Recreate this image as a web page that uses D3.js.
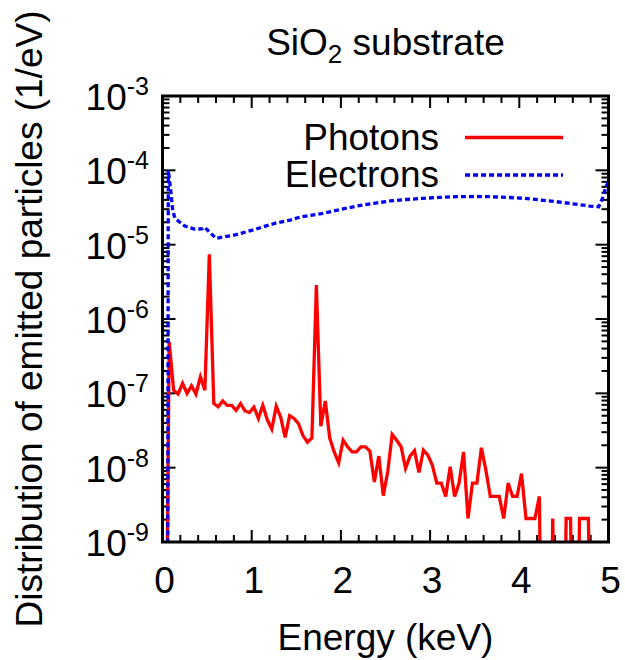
<!DOCTYPE html>
<html>
<head>
<meta charset="utf-8">
<script src="https://cdn.jsdelivr.net/npm/d3@7"></script>
<style>
  html, body { margin: 0; padding: 0; background: #fff; }
  svg { display: block; }
  text { font-family: "Liberation Sans", Arial, Helvetica, sans-serif; fill: #000; }
</style>
</head>
<body>
<svg id="chart" width="625" height="660"></svg>
<script>
// ---------------- data ----------------
const titleMain = "SiO";
const titleSub = "2";
const titleRest = " substrate";
const xLabel = "Energy (keV)";
const yLabel = "Distribution of emitted particles (1/eV)";
const seriesNames = ["Photons", "Electrons"];
const xTicks = [0, 1, 2, 3, 4, 5];
const yTickExponents = [-3, -4, -5, -6, -7, -8, -9];

// photon spectrum, bin centres (keV)
const photonEnergy = [
  0.025,0.075,0.125,0.175,0.225,0.275,0.325,0.375,0.425,0.475,
  0.525,0.575,0.625,0.675,0.725,0.775,0.825,0.875,0.925,0.975,
  1.025,1.075,1.125,1.175,1.225,1.275,1.325,1.375,1.425,1.475,
  1.525,1.575,1.625,1.675,1.725,1.775,1.825,1.875,1.925,1.975,
  2.025,2.075,2.125,2.175,2.225,2.275,2.325,2.375,2.425,2.475,
  2.525,2.575,2.625,2.675,2.725,2.775,2.825,2.875,2.925,2.975,
  3.025,3.075,3.125,3.175,3.225,3.275,3.325,3.375,3.425,3.475,
  3.525,3.575,3.625,3.675,3.725,3.775,3.825,3.875,3.925,3.975,
  4.025,4.075,4.125,4.175,4.225,4.275,4.325,4.375,4.425,4.475,
  4.525,4.575,4.625,4.675,4.725,4.775,4.825,4.875,4.925,4.975
];
// 0 = empty bin (drawn off the bottom of the log axis)
const photonValue = [
  0,4.9e-7,1.10e-7,9.8e-8,1.36e-7,1.0e-7,1.26e-7,9.8e-8,1.67e-7,1.10e-7,
  7.4e-6,7.3e-8,6.6e-8,7.9e-8,6.9e-8,6.9e-8,5.9e-8,7.3e-8,5.8e-8,5.5e-8,
  6.5e-8,4.6e-8,6.9e-8,4.4e-8,3.3e-8,6.7e-8,4.8e-8,2.55e-8,5.0e-8,4.6e-8,
  3.9e-8,2.7e-8,2.2e-8,2.5e-8,2.86e-6,3.6e-8,7.9e-8,2.5e-8,1.63e-8,1.16e-8,
  2.34e-8,1.91e-8,1.63e-8,1.63e-8,1.91e-8,1.91e-8,1.67e-8,6.4e-9,1.43e-8,4.2e-9,
  8.8e-9,2.8e-8,2.34e-8,1.91e-8,9.8e-9,1.43e-8,1.69e-8,8.6e-9,1.72e-8,1.47e-8,
  1.08e-8,6.2e-9,6.2e-9,4.1e-9,1.03e-8,4.1e-9,6.2e-9,1.63e-8,2.07e-9,6.2e-9,
  6.2e-9,1.85e-8,9.3e-9,4.1e-9,4.1e-9,4.1e-9,2.07e-9,6.2e-9,4.1e-9,4.1e-9,
  8.3e-9,2.07e-9,2.07e-9,2.07e-9,4.1e-9,0,0,2.07e-9,0,0,
  2.07e-9,2.07e-9,0,2.07e-9,2.07e-9,2.07e-9,0,0,0,0
];

// electron spectrum
const electronEnergy = [
  0.055,0.065,0.092,0.114,0.14,0.25,0.36,0.44,0.47,0.60,0.81,1.04,1.26,1.43,
  1.56,1.80,2.0,2.18,2.37,2.55,2.73,2.92,3.10,3.30,3.50,3.67,3.86,4.05,4.23,
  4.42,4.60,4.79,4.89,4.94,4.97,5.0
];
const electronValue = [
  0,1.0e-4,5.4e-5,2.9e-5,2.26e-5,1.78e-5,1.62e-5,1.63e-5,1.72e-5,1.22e-5,1.35e-5,1.61e-5,1.94e-5,2.14e-5,
  2.38e-5,2.64e-5,2.98e-5,3.31e-5,3.60e-5,3.87e-5,4.05e-5,4.20e-5,4.32e-5,4.42e-5,4.45e-5,4.42e-5,4.33e-5,4.20e-5,4.00e-5,
  3.78e-5,3.55e-5,3.31e-5,3.24e-5,4.4e-5,6.0e-5,7.0e-5
];

// ---------------- layout ----------------
const svg = d3.select("#chart");
const L = 162.5, R = 608.5, T = 96, B = 542;
const FONT = 37;

const x = d3.scaleLinear().domain([0, 5]).range([L, R]);
const y = d3.scaleLog().domain([1e-9, 1e-3]).range([B, T]);
const FLOOR = 1e-13; // where empty bins are drawn (clipped)

svg.append("defs").append("clipPath").attr("id", "plotclip")
  .append("rect").attr("x", L).attr("y", T).attr("width", R - L).attr("height", B - T);

// ticks
const tickG = svg.append("g").attr("stroke", "#000").attr("stroke-width", 2);
const xMinor = d3.range(0, 5.0001, 0.2);
xMinor.forEach(v => {
  const major = Math.abs(v - Math.round(v)) < 1e-6;
  const len = major ? 12 : 7;
  const px = x(v);
  tickG.append("line").attr("x1", px).attr("x2", px).attr("y1", B).attr("y2", B - len);
  tickG.append("line").attr("x1", px).attr("x2", px).attr("y1", T).attr("y2", T + len);
});
for (let e = -9; e < -3; e++) {
  for (let m = 1; m <= 9; m++) {
    const v = m * Math.pow(10, e);
    const len = m === 1 ? 13 : 7;
    const py = y(v);
    tickG.append("line").attr("x1", L).attr("x2", L + len).attr("y1", py).attr("y2", py);
    tickG.append("line").attr("x1", R).attr("x2", R - len).attr("y1", py).attr("y2", py);
  }
}

// data lines
const lineGen = d3.line()
  .x(d => x(d[0]))
  .y(d => y(d[1] > 0 ? d[1] : FLOOR));

const plot = svg.append("g").attr("clip-path", "url(#plotclip)");
plot.append("path")
  .datum(photonEnergy.map((e, i) => [e, photonValue[i]]))
  .attr("d", lineGen)
  .attr("fill", "none").attr("stroke", "#ff0000").attr("stroke-width", 3.3)
  .attr("stroke-linejoin", "miter");
plot.append("path")
  .datum(electronEnergy.map((e, i) => [e, electronValue[i]]))
  .attr("d", lineGen)
  .attr("fill", "none").attr("stroke", "#0000ff").attr("stroke-width", 3.3)
  .attr("stroke-dasharray", "5,3");

// frame
svg.append("rect").attr("x", L).attr("y", T).attr("width", R - L).attr("height", B - T)
  .attr("fill", "none").attr("stroke", "#000").attr("stroke-width", 3);

// x tick labels
svg.append("g").selectAll("text").data(xTicks).join("text")
  .attr("x", d => x(d) + 2).attr("y", 593)
  .attr("text-anchor", "middle").attr("font-size", FONT)
  .text(d => d);

// y tick labels
yTickExponents.forEach(e => {
  const t = svg.append("text")
    .attr("x", 149).attr("y", y(Math.pow(10, e)) + 14)
    .attr("text-anchor", "end").attr("font-size", FONT);
  t.append("tspan").text("10");
  t.append("tspan").attr("font-size", 25).attr("dy", -15).text(String(e));
});

// axis labels
svg.append("text")
  .attr("transform", `translate(42, ${(T + B) / 2}) rotate(-90)`)
  .attr("text-anchor", "middle").attr("font-size", FONT)
  .text(yLabel);
svg.append("text")
  .attr("x", (L + R) / 2).attr("y", 650)
  .attr("text-anchor", "middle").attr("font-size", FONT)
  .text(xLabel);

// title
const title = svg.append("text")
  .attr("x", (L + R) / 2).attr("y", 55)
  .attr("text-anchor", "middle").attr("font-size", FONT);
title.append("tspan").text(titleMain);
title.append("tspan").attr("font-size", 26).attr("dy", 8).text(titleSub);
title.append("tspan").attr("dy", -8).text(titleRest);

// legend
const legendRows = [
  { name: seriesNames[0], color: "#ff0000", dash: null, ty: 150, ly: 137.5 },
  { name: seriesNames[1], color: "#0000ff", dash: "5,3", ty: 187, ly: 175 }
];
legendRows.forEach(r => {
  svg.append("text").attr("x", 439).attr("y", r.ty)
    .attr("text-anchor", "end").attr("font-size", FONT).text(r.name);
  svg.append("line").attr("x1", 465).attr("x2", 563).attr("y1", r.ly).attr("y2", r.ly)
    .attr("stroke", r.color).attr("stroke-width", 3.3)
    .attr("stroke-dasharray", r.dash);
});
</script>
</body>
</html>
